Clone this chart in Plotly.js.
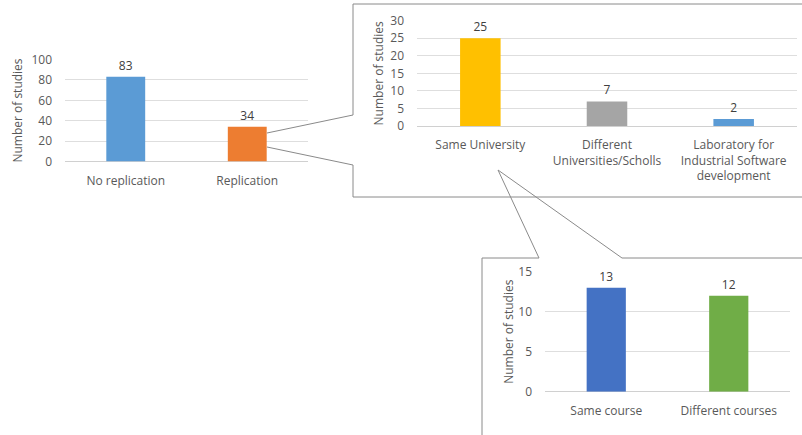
<!DOCTYPE html>
<html>
<head>
<meta charset="utf-8">
<script src="https://cdn.plot.ly/plotly-3.0.1.min.js"></script>
<style>html,body{margin:0;padding:0;background:#fff;}#chart{width:802px;height:435px;}</style>
</head>
<body>
<div id="chart"></div>
<script>
// ---- data ----
const replCategories = ["No replication", "Replication"];
const replValues = [83, 34];
const placeCategories = ["Same University", "Different<br>Universities/Scholls", "Laboratory for<br>Industrial Software<br>development"];
const placeValues = [25, 7, 2];
const courseCategories = ["Same course", "Different courses"];
const courseValues = [13, 12];
const yTitle = "Number of studies";

// ---- styles ----
const replColors = ["#5B9BD5", "#ED7D31"];
const placeColors = ["#FFC000", "#A5A5A5", "#5B9BD5"];
const courseColors = ["#4472C4", "#70AD47"];

const W = 802, H = 435;
const X = p => p / W;
const Y = p => 1 - p / H;
const FONT = "Open Sans, sans-serif";
const tickFont = {family: FONT, size: 12, color: "#595959"};
const labelFont = {family: FONT, size: 12, color: "#404040"};

function barTrace(cats, vals, colors, xa, ya) {
  return {
    type: "bar", x: cats, y: vals, xaxis: xa, yaxis: ya,
    marker: {color: colors, line: {width: 0}},
    text: vals.map(String), textposition: "outside", textfont: labelFont,
    cliponaxis: false, hoverinfo: "x+y"
  };
}

const data = [
  barTrace(replCategories, replValues, replColors, "x", "y"),
  barTrace(placeCategories, placeValues, placeColors, "x2", "y2"),
  barTrace(courseCategories, courseValues, courseColors, "x3", "y3")
];

function xAxis(dom, anchor) {
  return {domain: dom, anchor: anchor, type: "category", showgrid: false, zeroline: false,
          showline: false, ticks: "", tickfont: tickFont, ticklabelstandoff: 10, fixedrange: true};
}
function yAxis(dom, anchor, range, dtick, standoff) {
  return {domain: dom, anchor: anchor, range: range, dtick: dtick, showgrid: true,
          gridcolor: "#dedede", gridwidth: 1, zeroline: true, zerolinecolor: "#d0d0d0",
          showline: false, ticks: "", tickfont: tickFont, ticklabelstandoff: 12,
          title: {text: yTitle, font: {family: FONT, size: 12, color: "#595959"}, standoff: standoff},
          fixedrange: true};
}

const lineStyle = {color: "#8a8a8a", width: 1};
function seg(x0, y0, x1, y1) {
  return {type: "line", xref: "paper", yref: "paper", x0: X(x0), y0: Y(y0), x1: X(x1), y1: Y(y1),
          line: lineStyle, layer: "below"};
}

const shapes = [
  // top callout box (opening on the left side)
  seg(353, 115, 353, 4), seg(353, 4, 803, 4), seg(803, 4, 803, 197),
  seg(803, 197, 353, 197), seg(353, 197, 353, 165),
  // wedge from Replication bar
  seg(267, 133, 353, 115), seg(267, 147, 353, 165),
  // bottom callout box (opening on top)
  seg(539, 258, 482, 258), seg(482, 258, 482, 437), seg(482, 437, 803, 437),
  seg(803, 437, 803, 258), seg(803, 258, 622, 258),
  // wedge from "Same University"
  seg(498, 170, 539, 258), seg(498, 170, 622, 258)
];

const layout = {
  width: W, height: H,
  margin: {l: 0, r: 0, t: 0, b: 0},
  paper_bgcolor: "#ffffff", plot_bgcolor: "rgba(0,0,0,0)",
  showlegend: false, bargap: 0.68,
  xaxis: xAxis([X(65), X(308)], "y"),
  yaxis: yAxis([Y(161.5), Y(59.5)], "x", [0, 100], 20, 6),
  xaxis2: xAxis([X(417), X(797)], "y2"),
  yaxis2: yAxis([Y(126), Y(20.7)], "x2", [0, 30], 5, 4),
  xaxis3: xAxis([X(545), X(790)], "y3"),
  yaxis3: yAxis([Y(391.7), Y(271.7)], "x3", [0, 15], 5, 2),
  shapes: shapes
};

Plotly.newPlot("chart", data, layout, {displayModeBar: false, staticPlot: true});
</script>
</body>
</html>
